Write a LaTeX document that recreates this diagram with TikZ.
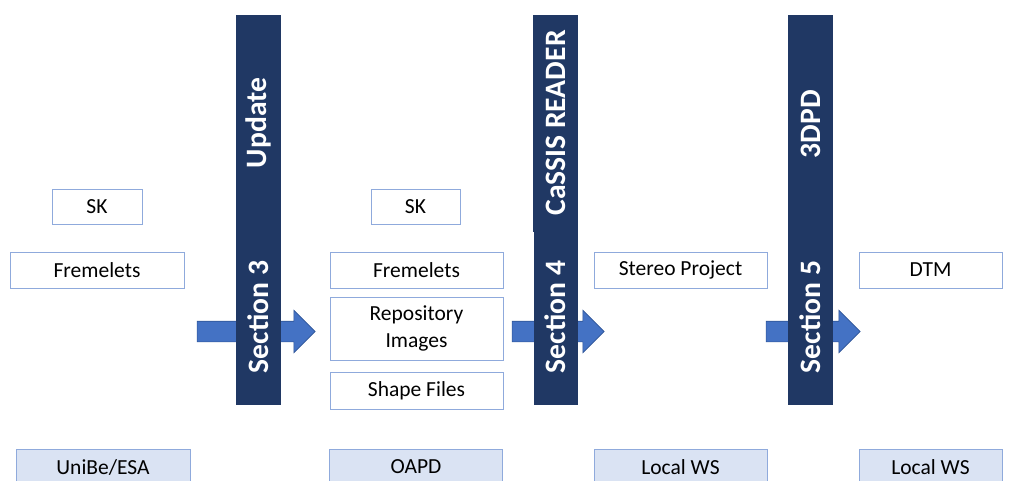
\documentclass[tikz,border=0pt]{standalone}
\usepackage{fontspec}
\setmainfont{Carlito}
\usetikzlibrary{shapes.arrows}
\definecolor{navy}{HTML}{203864}
\definecolor{boxline}{HTML}{8FAADC}
\definecolor{boxfill}{HTML}{DAE3F3}
\definecolor{arrowfill}{HTML}{4472C4}
\definecolor{arrowline}{HTML}{2F5597}
\tikzset{
  lbox/.style={draw=boxline, line width=0.9pt, fill=white, inner sep=0pt, font=\fontsize{21.5}{26.5}\selectfont, align=center},
  sitebox/.style={lbox, fill=boxfill},
  barlabel/.style={text=white, font=\bfseries\fontsize{29.6}{31}\selectfont, rotate=90, inner sep=0pt},
  blockarrow/.style={single arrow, fill=arrowfill, draw=arrowline, line width=0.6pt, inner xsep=0pt, inner ysep=10pt, single arrow head extend=11pt, minimum width=42pt}
}
\begin{document}
\begin{tikzpicture}[x=1pt,y=-1pt]
\useasboundingbox (0,0) rectangle (1020,481);
\clip (0,0) rectangle (1020,481);
% block arrows
\node[blockarrow, minimum height=118pt] (a1) at (251,331.5) {};
\node[blockarrow, minimum height=92pt] (a2) at (553,331.5) {};
\node[blockarrow, minimum height=94pt] (a3) at (808,331.5) {};
% bars
\fill[navy] (236,15) rectangle (281,405);
\fill[navy] (533,15) rectangle (578,232);
\fill[navy] (534,232) rectangle (578,405);
\fill[navy] (788,15) rectangle (833,405);
\node[barlabel] (u) at (258.5,123) {Update};
\node[barlabel] (s3) at (258.5,317) {Section 3};
\node[barlabel] (cr) at (555.5,123) {CaSSIS READER};
\node[barlabel] (s4) at (555.5,317) {Section 4};
\node[barlabel] (dp) at (810.5,124) {3DPD};
\node[barlabel] (s5) at (810.5,317) {Section 5};
% column 1
\node[lbox, minimum width=90pt, minimum height=35pt] (sk1) at (97,206.5) {SK};
\node[lbox, minimum width=174pt, minimum height=36pt] (fr1) at (97,270) {Fremelets};
% column 2
\node[lbox, minimum width=89pt, minimum height=35pt] (sk2) at (415.5,206.5) {SK};
\node[lbox, minimum width=173pt, minimum height=36pt] (fr2) at (416.5,270) {Fremelets};
\node[lbox, minimum width=173pt, minimum height=63pt] (ri) at (416.5,328.5) {Repository\\Images};
\node[lbox, minimum width=173pt, minimum height=37pt] (sf) at (416.5,390.5) {Shape Files};
% column 3
\node[lbox, minimum width=173pt, minimum height=36pt] (sp) at (680.5,270) {Stereo Project};
% column 4
\node[lbox, minimum width=143pt, minimum height=36pt] (dtm) at (930.5,270) {DTM};
% sites
\node[sitebox, minimum width=174pt, minimum height=36pt] (ue) at (103,467) {UniBe/ESA};
\node[sitebox, minimum width=173pt, minimum height=36pt] (oa) at (416,467) {OAPD};
\node[sitebox, minimum width=173pt, minimum height=36pt] (lw1) at (680.5,467) {Local WS};
\node[sitebox, minimum width=143pt, minimum height=36pt] (lw2) at (930.5,467) {Local WS};
\end{tikzpicture}
\end{document}
